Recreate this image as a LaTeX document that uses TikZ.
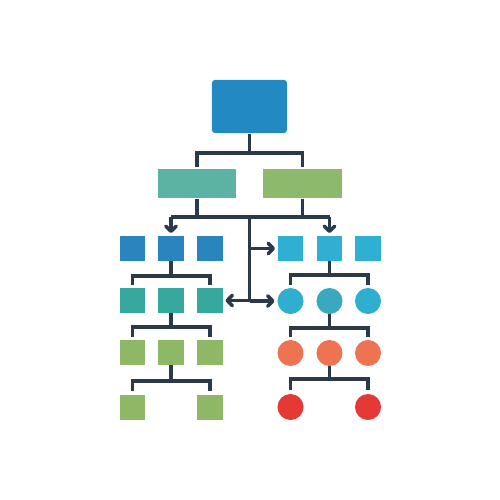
\documentclass[tikz,border=0pt]{standalone}
\usetikzlibrary{arrows.meta,calc}
\definecolor{lc}{HTML}{2B3A4A}
\definecolor{topblue}{HTML}{2389C2}
\definecolor{tealbox}{HTML}{5DB3A3}
\definecolor{greenbox}{HTML}{8DB96C}
\definecolor{sqblue}{HTML}{2A85BF}
\definecolor{sqcyan}{HTML}{2EAFD3}
\definecolor{sqteal}{HTML}{36A89E}
\definecolor{circyan}{HTML}{2FAECF}
\definecolor{cirteal}{HTML}{3AA8BE}
\definecolor{sqgreen}{HTML}{8EB866}
\definecolor{orng}{HTML}{EE7352}
\definecolor{redc}{HTML}{E53935}
\begin{document}
\begin{tikzpicture}[x=0.01cm,y=-0.01cm,
  sq/.style={rectangle,minimum size=0.25cm,inner sep=0pt,outer sep=0pt},
  cir/.style={circle,minimum size=0.26cm,inner sep=0pt,outer sep=0pt},
  ln/.style={draw=lc,line width=1pt},
  arr/.style={ln,-{Straight Barb[length=0.5mm,width=1.05mm,round]},shorten >=0.3mm}]
\useasboundingbox[fill=white] (0,0) rectangle (500,500);
% boxes
\node[fill=topblue,rounded corners=0.3mm,minimum width=0.75cm,minimum height=0.53cm,inner sep=0pt] (top) at (249.5,106.5) {};
\node[fill=tealbox,minimum width=0.78cm,minimum height=0.29cm,inner sep=0pt] (la) at (197,183.5) {};
\node[fill=greenbox,minimum width=0.79cm,minimum height=0.29cm,inner sep=0pt] (lb) at (302.5,183.5) {};
% left column
\node[sq,fill=sqblue] (b1) at (132.5,248.5) {};
\node[sq,fill=sqblue] (b2) at (171,248.5) {};
\node[sq,fill=sqblue] (b3) at (210,248.5) {};
\node[sq,fill=sqteal] (t1) at (132.5,300.5) {};
\node[sq,fill=sqteal] (t2) at (171,300.5) {};
\node[sq,fill=sqteal] (t3) at (210,300.5) {};
\node[sq,fill=sqgreen] (g1) at (132.5,352.5) {};
\node[sq,fill=sqgreen] (g2) at (171,352.5) {};
\node[sq,fill=sqgreen] (g3) at (210,352.5) {};
\node[sq,fill=sqgreen] (h1) at (132.5,407.5) {};
\node[sq,fill=sqgreen] (h3) at (210,407.5) {};
% right column
\node[sq,fill=sqcyan] (c1) at (290.5,248.5) {};
\node[sq,fill=sqcyan] (c2) at (329.5,248.5) {};
\node[sq,fill=sqcyan] (c3) at (368,248.5) {};
\node[cir,fill=circyan] (d1) at (290.5,301) {};
\node[cir,fill=cirteal] (d2) at (329.5,301) {};
\node[cir,fill=circyan] (d3) at (368,301) {};
\node[cir,fill=orng] (o1) at (290.5,353) {};
\node[cir,fill=orng] (o2) at (329.5,353) {};
\node[cir,fill=orng] (o3) at (368,353) {};
\node[cir,fill=redc] (r1) at (290.5,407) {};
\node[cir,fill=redc] (r3) at (368,407) {};
% top bracket
\coordinate (j1) at (249.5,153);
\draw[ln] (top.south) -- (j1);
\draw[ln] ([yshift=0.1mm]la.north) -- (la.north|-j1) -- (lb.north|-j1) -- ([yshift=0.1mm]lb.north);
% second level
\coordinate (j2) at (249.5,217);
\draw[ln] (la.south) -- (la.south|-j2);
\draw[ln] (lb.south) -- (lb.south|-j2);
\draw[ln] (b2.north|-j2) -- (c2.north|-j2);
\draw[arr] (b2.north|-j2) -- (b2.north);
\draw[arr] (c2.north|-j2) -- (c2.north);
\draw[ln] (j2) -- (j2|-d1);
\draw[arr] (j2|-c1) -- (c1.west);
\draw[arr] (j2|-d1) -- (d1.west);
\draw[arr] (j2|-t3) -- (t3.east);
% left brackets
\coordinate (k1) at (171,276);
\draw[ln] (b2.south) -- (b2.south|-k1);
\draw[ln] ([yshift=0.3mm]t1.north) -- (t1.north|-k1) -- (t3.north|-k1) -- ([yshift=0.3mm]t3.north);
\coordinate (k2) at (171,327);
\draw[ln] (t2.south) -- (t2.south|-k2);
\draw[ln] ([yshift=0.3mm]g1.north) -- (g1.north|-k2) -- (g3.north|-k2) -- ([yshift=0.3mm]g3.north);
\coordinate (k3) at (171,381);
\draw[ln] (g2.south) -- (g2.south|-k3);
\draw[ln] ([yshift=0.4mm]h1.north) -- (h1.north|-k3) -- (h3.north|-k3) -- ([yshift=0.4mm]h3.north);
% right brackets
\coordinate (m1) at (329.5,275);
\draw[ln] (c2.south) -- (c2.south|-m1);
\draw[ln] ([yshift=0.3mm]d1.north) -- (d1.north|-m1) -- (d3.north|-m1) -- ([yshift=0.3mm]d3.north);
\coordinate (m2) at (329.5,328);
\draw[ln] (d2.south) -- (d2.south|-m2);
\draw[ln] ([yshift=0.3mm]o1.north) -- (o1.north|-m2) -- (o3.north|-m2) -- ([yshift=0.3mm]o3.north);
\coordinate (m3) at (329.5,379);
\draw[ln] (o2.south) -- (o2.south|-m3);
\draw[ln] ([yshift=0.4mm]r1.north) -- (r1.north|-m3) -- (r3.north|-m3) -- ([yshift=0.4mm]r3.north);
\end{tikzpicture}
\end{document}
